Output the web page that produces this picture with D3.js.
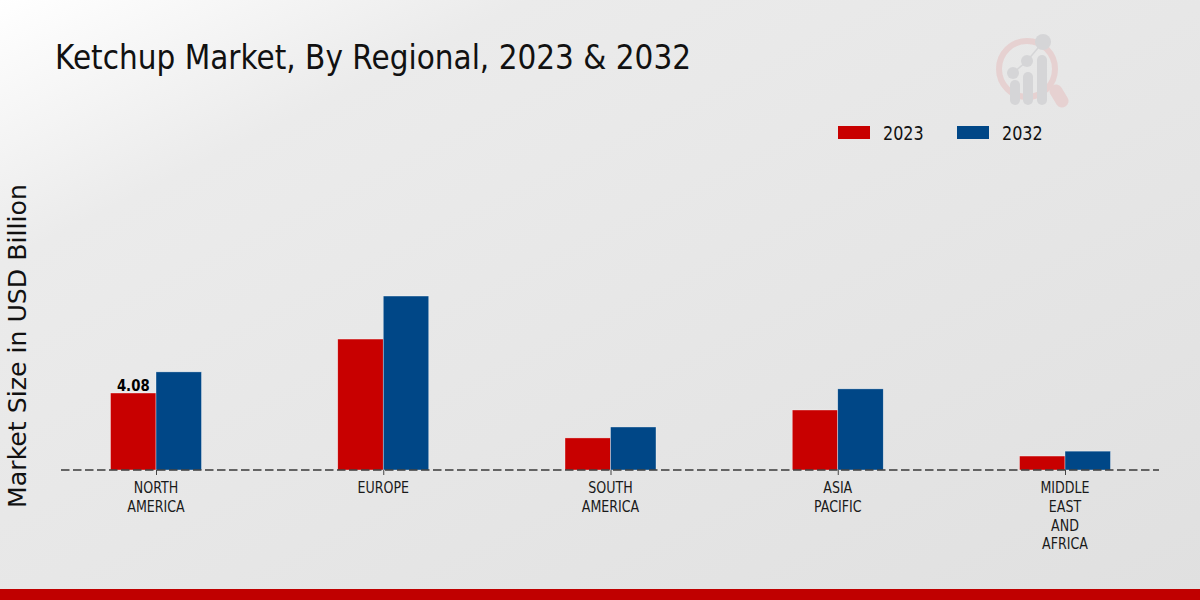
<!DOCTYPE html>
<html>
<head>
<meta charset="utf-8">
<script src="https://cdn.jsdelivr.net/npm/d3@7"></script>
<style>
  html, body { margin: 0; padding: 0; background: #e6e6e6; }
  svg { display: block; font-family: "DejaVu Sans", sans-serif; }
</style>
</head>
<body>
<svg id="chart" width="1200" height="600"></svg>
<script>
// values
const regions = [["NORTH", "AMERICA"], ["EUROPE"], ["SOUTH", "AMERICA"], ["ASIA", "PACIFIC"], ["MIDDLE", "EAST", "AND", "AFRICA"]];
const regionKeys = regions.map(d => d.join(" "));
const years = ["2023", "2032"];
const values2023 = [4.08, 6.94, 1.7, 3.18, 0.74];
const values2032 = [5.2, 9.22, 2.28, 4.3, 1.0];
const yearColors = ["#c80000", "#004787"];

const svg = d3.select("#chart");
const baseY = 470;

// background
const defs = svg.append("defs");
const grad = defs.append("linearGradient")
    .attr("id", "bg")
    .attr("x1", "0%").attr("y1", "0%")
    .attr("x2", "100%").attr("y2", "100%");
grad.append("stop").attr("offset", "0%").attr("stop-color", "#ffffff");
grad.append("stop").attr("offset", "22%").attr("stop-color", "#ebebeb");
grad.append("stop").attr("offset", "100%").attr("stop-color", "#e0e0e0");
svg.append("rect").attr("width", 1200).attr("height", 600).attr("fill", "url(#bg)");

// bottom band
svg.append("rect").attr("x", 0).attr("y", 589).attr("width", 1200).attr("height", 11).attr("fill", "#c00000");

// watermark logo
const logo = svg.append("g").attr("opacity", 0.9);
logo.append("circle").attr("cx", 1027).attr("cy", 69).attr("r", 28)
    .attr("fill", "none").attr("stroke", "#e6cfcf").attr("stroke-width", 6);
logo.append("line").attr("x1", 1056).attr("y1", 91).attr("x2", 1062).attr("y2", 101)
    .attr("stroke", "#e6cfcf").attr("stroke-width", 13).attr("stroke-linecap", "round");
logo.append("polyline").attr("points", "1013,73 1027,61 1043,42")
    .attr("fill", "none").attr("stroke", "#d4d4d6").attr("stroke-width", 1.5);
[[1013, 73, 6], [1027, 61, 6], [1043, 42, 8]].forEach(c => {
    logo.append("circle").attr("cx", c[0]).attr("cy", c[1]).attr("r", c[2]).attr("fill", "#d4d4d6");
});
[[1010, 80, 10], [1023, 72, 10], [1037, 55, 10]].forEach(b => {
    logo.append("rect").attr("x", b[0]).attr("y", b[1]).attr("width", b[2]).attr("height", 105 - b[1])
        .attr("rx", 5).attr("fill", "#d4d4d6");
});

// scales
const x = d3.scalePoint().domain(regionKeys).range([156, 1065]);
const y = d3.scaleLinear().domain([0, 10]).range([baseY, baseY - 188.7]);
const barW = 45.5;

// bars
const barGroup = svg.append("g");
[values2023, values2032].forEach((vals, s) => {
    barGroup.selectAll(null)
        .data(vals)
        .enter()
        .append("rect")
        .attr("x", (d, i) => x(regionKeys[i]) + (s - 1) * barW)
        .attr("y", d => y(d))
        .attr("width", barW)
        .attr("height", d => baseY - y(d))
        .attr("fill", yearColors[s])
        .attr("stroke", "#ffffff")
        .attr("stroke-opacity", 0.6)
        .attr("stroke-width", 0.6);
});

// dashed axis line and ticks
svg.append("line")
    .attr("x1", 61).attr("x2", 1159).attr("y1", baseY).attr("y2", baseY)
    .attr("stroke", "#3a3a3a").attr("stroke-width", 1.3).attr("stroke-dasharray", "8.5,3.5");

const axis = d3.axisBottom(x).tickSize(5).tickFormat("");
const axisG = svg.append("g").attr("transform", `translate(0,${baseY})`).call(axis);
axisG.select(".domain").remove();
axisG.selectAll("line").attr("stroke", "#444444");

// category labels, squeezed like the original
regions.forEach((lines, i) => {
    lines.forEach((line, j) => {
        svg.append("text")
            .attr("transform", `translate(${x(regionKeys[i])},${493 + j * 18.8}) scale(0.79,1)`)
            .attr("text-anchor", "middle")
            .attr("font-size", 16)
            .attr("fill", "#1a1a1a")
            .text(line);
    });
});

// value label
svg.append("text")
    .attr("transform", `translate(${x(regionKeys[0]) - barW / 2},${y(values2023[0]) - 2.5}) scale(0.83,1)`)
    .attr("text-anchor", "middle")
    .attr("font-size", 16)
    .attr("font-weight", "bold")
    .attr("fill", "#000000")
    .text(values2023[0]);

// title
svg.append("text")
    .attr("transform", "translate(55,69) scale(0.87,1)")
    .attr("font-size", 34)
    .attr("fill", "#111111")
    .text("Ketchup Market, By Regional, 2023 & 2032");

// y axis title
svg.append("text")
    .attr("transform", "translate(26,346) rotate(-90)")
    .attr("text-anchor", "middle")
    .attr("font-size", 25.2)
    .attr("fill", "#111111")
    .text("Market Size in USD Billion");

// legend
const legendX = [838, 957];
years.forEach((yr, i) => {
    svg.append("rect")
        .attr("x", legendX[i]).attr("y", 126)
        .attr("width", 32).attr("height", 13)
        .attr("fill", yearColors[i]);
    svg.append("text")
        .attr("transform", `translate(${legendX[i] + 45},140) scale(0.8,1)`)
        .attr("font-size", 20)
        .attr("fill", "#111111")
        .text(yr);
});
</script>
</body>
</html>
